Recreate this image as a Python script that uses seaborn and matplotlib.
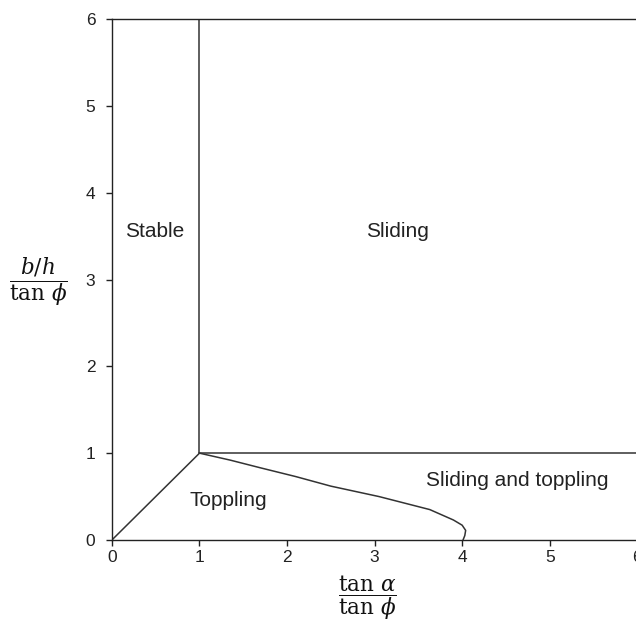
import pandas as pd
import matplotlib
matplotlib.use("Agg")
import matplotlib.pyplot as plt
import seaborn as sns

# boundary lines of the regions
stable_sliding_x = [1, 1]
stable_sliding_y = [1, 6]
sliding_both_x = [1, 6]
sliding_both_y = [1, 1]
stable_toppling_x = [0, 1]
stable_toppling_y = [0, 1]
toppling_curve_x = [1.0, 1.35, 1.7, 2.1, 2.5, 3.05, 3.63, 3.9, 4.0, 4.04, 4.03, 4.01]
toppling_curve_y = [1.0, 0.92, 0.83, 0.73, 0.62, 0.50, 0.35, 0.23, 0.17, 0.11, 0.05, 0.0]

region_names = ["Stable", "Sliding", "Toppling", "Sliding and toppling"]
region_x = [0.49, 3.26, 1.33, 4.63]
region_y = [3.55, 3.55, 0.46, 0.69]

sns.set_style("ticks")
plt.rcParams["font.family"] = ["Liberation Sans", "DejaVu Sans"]
plt.rcParams["mathtext.fontset"] = "dejavuserif"

fig = plt.figure(figsize=(6.36, 6.39), dpi=100)
ax = fig.add_axes([0.176, 0.155, 0.826, 0.815])

segments = [
    (stable_sliding_x, stable_sliding_y),
    (sliding_both_x, sliding_both_y),
    (stable_toppling_x, stable_toppling_y),
    (toppling_curve_x, toppling_curve_y),
]
for sx, sy in segments:
    seg = pd.DataFrame({"x": sx, "y": sy})
    sns.lineplot(data=seg, x="x", y="y", sort=False, estimator=None,
                 color="#333333", linewidth=1.1, ax=ax)

for name, tx, ty in zip(region_names, region_x, region_y):
    ax.text(tx, ty, name, ha="center", va="center", fontsize=15, color="#222222")

ax.set_xlim(0, 6)
ax.set_ylim(0, 6)
ax.set_xticks(range(7))
ax.set_yticks(range(7))
ax.tick_params(labelsize=12.5, length=4, width=1, colors="#222222")
ax.tick_params(axis="y", pad=8)
ax.tick_params(axis="x", pad=3)
for s in ax.spines.values():
    s.set_color("#222222")
    s.set_linewidth(1)
ax.spines["right"].set_visible(False)

ax.set_xlabel("")
ax.set_ylabel("")
fig.text(0.577, 0.064, r"$\dfrac{\tan\,\alpha}{\tan\,\phi}$", ha="center", va="center",
         fontsize=15.5, color="#111111")
fig.text(0.06, 0.56, r"$\dfrac{b/h}{\tan\,\phi}$", ha="center", va="center",
         fontsize=15.5, color="#111111")

fig.savefig("out.png", dpi=100)
